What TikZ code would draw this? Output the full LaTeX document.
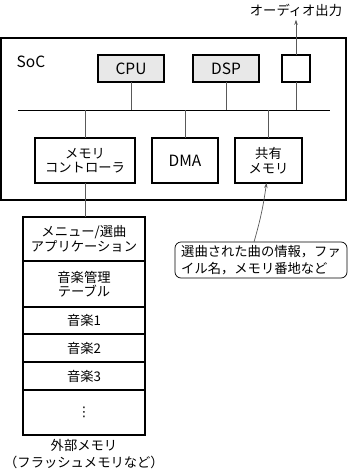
\documentclass[tikz,border=0pt]{standalone}
\usepackage{fontspec}
\setmainfont{Noto Sans CJK JP}
\newfontfamily\symfont{DejaVu Sans}
\usetikzlibrary{positioning,arrows.meta}
\definecolor{unitgray}{gray}{0.91}
\definecolor{wiregray}{gray}{0.35}
\begin{document}
\begin{tikzpicture}[
      x=1pt, y=-1pt,
      font=\fontsize{13.3}{16.5}\selectfont,
      latin/.style={font=\fontsize{15.5}{18}\selectfont},
      unit/.style={
        draw, line width=1.3pt, fill=white, outer sep=0pt,
        inner sep=0pt, align=center, minimum height=45pt
      },
      core/.style={
        unit, latin, fill=unitgray, minimum width=66pt, minimum height=27pt
      },
      slot/.style={
        draw, line width=1.3pt, outer sep=0pt, inner sep=0pt,
        minimum width=122pt, align=center, anchor=north
      },
      wire/.style={draw=wiregray, line width=0.7pt},
      note/.style={
        draw, rounded corners=6pt, line width=0.7pt, fill=white,
        minimum width=172pt, minimum height=36pt, align=left,
        inner sep=3pt
      }
    ]
    \useasboundingbox (0,0) rectangle (350,474);

    % SoC
    \node[draw, line width=1.3pt, minimum width=345pt, minimum height=162pt,
      inner sep=0pt] (soc) at (173.5,119) {};
    \node[latin] (soclabel) at (31,62) {SoC};

    \node[core] (cpu) at (131,68.5) {CPU};
    \node[core] (dsp) at (226,68.5) {DSP};
    \node[core, fill=white, minimum width=28pt] (aout) at (296,68.5) {};

    \coordinate (busL) at (18,110);
    \coordinate (busR) at (330,110);
    \draw[line width=0.8pt] (busL) -- (busR);

    \node[unit, minimum width=100pt] (memc) at (85,160.5) {メモリ\\[-2pt]コントローラ};
    \node[unit, latin, minimum width=66pt] (dma) at (185,160.5) {DMA};
    \node[unit, minimum width=67pt] (shm) at (268.5,160.5) {共有\\[-2pt]メモリ};

    \draw[wire] (cpu.south) -- (cpu.south |- busL);
    \draw[wire] (dsp.south) -- (dsp.south |- busL);
    \draw[wire] (aout.south) -- (aout.south |- busL);
    \draw[wire] (memc.north) -- (memc.north |- busL);
    \draw[wire] (dma.north) -- (dma.north |- busL);
    \draw[wire] (shm.north) -- (shm.north |- busL);

    % audio output
    \node (aoutlabel) at (296,10) {オーディオ出力};
    \draw[wire, -{Stealth[length=5pt,width=3.5pt]}] (aout.north) -- (aoutlabel.south);

    % external memory
    \node[slot, minimum height=44pt] (menu) at (84,217) {メニュー/選曲\\[-2pt]アプリケーション};
    \node[slot, minimum height=46pt, below=0pt of menu] (table) {音楽管理\\[-2pt]テーブル};
    \node[slot, minimum height=27pt, below=0pt of table] (song1) {音楽1};
    \node[slot, minimum height=28pt, below=0pt of song1] (song2) {音楽2};
    \node[slot, minimum height=28pt, below=0pt of song2] (song3) {音楽3};
    \node[slot, minimum height=45pt, below=0pt of song3] (more) {\symfont ⋮};
    \node[below=1pt of more, align=center, font=\fontsize{13.3}{17}\selectfont]
      (extlabel) {外部メモリ\\（フラッシュメモリなど）};

    \draw[wire] (memc.south) -- (memc.south |- menu.north);

    % callout
    \node[note] (info) at (261,260) {選曲された曲の情報，ファ\\イル名，メモリ番地など};
    \coordinate (pin) at (254,242);
    \draw[wire, -{Stealth[length=5pt,width=3.5pt]}] (pin) to[bend right=4]
      ([xshift=-2pt]shm.south);
  \end{tikzpicture}
\end{document}
